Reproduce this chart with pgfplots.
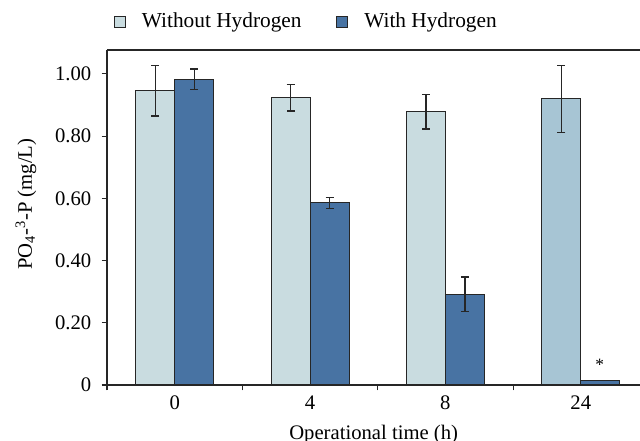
\documentclass[border=0pt]{standalone}
\usepackage{pgfplots}
\usepackage{pgfplotstable}
\pgfplotsset{compat=1.18}
\usepackage{fontspec}
\setmainfont{Liberation Serif}
\definecolor{lightb}{HTML}{C9DCE0}
\definecolor{darkb}{HTML}{4873A3}
\definecolor{midb}{HTML}{A7C5D4}

\pgfplotstableread{
x y e
0 0.946 0.081
1 0.923 0.042
2 0.878 0.055
}\without
\pgfplotstableread{
x y e
3 0.920 0.108
}\withoutlast
\pgfplotstableread{
x y e
0 0.983 0.033
1 0.586 0.018
2 0.292 0.055
}\withh
\pgfplotstableread{
x y
3 0.013
}\withlast

\begin{document}
\fontsize{15.5}{18}\selectfont
\begin{tikzpicture}
\useasboundingbox (-80.25pt,-42pt) rectangle (399.75pt,288.75pt);
\begin{axis}[
  scale only axis, width=400pt, height=251.25pt,
  xmin=-0.5, xmax=3.44, ymin=0, ymax=1.077,
  axis x line=box, axis y line=left, axis line style={-, line width=0.8pt, black!85},
  ybar, bar width=29.25pt,
  tick align=outside, major tick length=4pt,
  tick style={line width=0.8pt, black!85},
  xtick pos=bottom, ytick pos=left,
  xtick={-0.5,0.5,1.5,2.5}, xticklabels={},
  extra x ticks={0,1,2,3}, extra x tick labels={0,4,8,24},
  extra x tick style={major tick length=0pt, xticklabel style={yshift=-2.5pt}},
  ytick={0,0.2,0.4,0.6,0.8,1.0}, yticklabels={0,0.20,0.40,0.60,0.80,1.00},
  yticklabel style={xshift=-2.5pt},
  /pgf/number format/assume math mode=true,
  ylabel={PO\textsubscript{4}-\textsuperscript{3}-P (mg/L)},
  xlabel={Operational time (h)},
  every axis y label/.style={at={(axis description cs:-0.152,0.54)}, rotate=90, anchor=center},
  xlabel style={yshift=2.5pt},
  legend style={at={(axis description cs:0.0125,1.0836)}, anchor=west, draw=none, fill=none,
    legend columns=2, inner sep=0pt, font=\fontsize{16}{18}\selectfont,
    /tikz/every odd column/.append style={column sep=10pt},
    /tikz/every even column/.append style={column sep=24pt}},
  legend image code/.code={\draw[#1, draw=black!85, line width=0.8pt] (0pt,-4.1pt) rectangle (8.2pt,4.1pt);},
  error bars/error bar style={line width=0.9pt, black!85},
  error bars/error mark options={rotate=90, mark size=3pt, line width=0.9pt, black!85},
]
\addplot[fill=lightb, draw=black!85, line width=0.8pt, bar shift=-14.625pt,
  error bars/.cd, y dir=both, y explicit]
  table[x=x, y=y, y error=e]{\without};
\addlegendentry{Without Hydrogen}
\addplot[fill=midb, draw=black!85, line width=0.8pt, bar shift=-14.625pt, forget plot,
  error bars/.cd, y dir=both, y explicit]
  table[x=x, y=y, y error=e]{\withoutlast};
\addplot[fill=darkb, draw=black!85, line width=0.8pt, bar shift=14.625pt,
  error bars/.cd, y dir=both, y explicit]
  table[x=x, y=y, y error=e]{\withh};
\addlegendentry{With Hydrogen}
\addplot[fill=darkb, draw=black!85, line width=0.8pt, bar shift=14.625pt, forget plot]
  table[x=x, y=y]{\withlast};
\node[font=\fontsize{13}{15}\selectfont] at (axis cs:3.14,0.065) {*};
\end{axis}
\end{tikzpicture}
\end{document}
